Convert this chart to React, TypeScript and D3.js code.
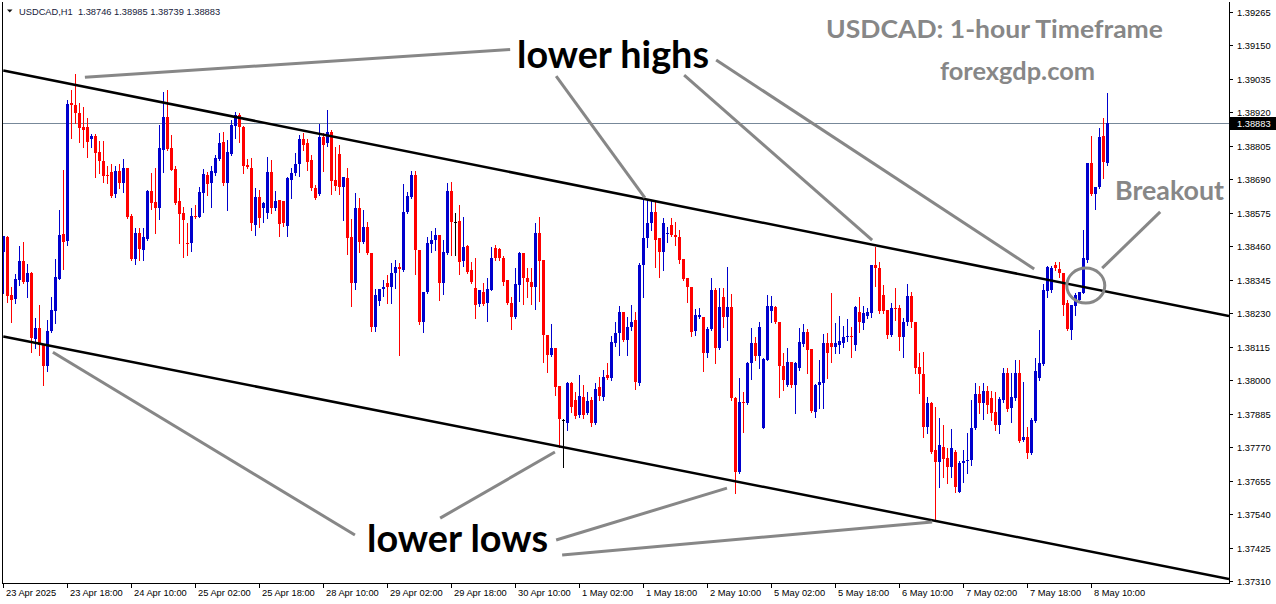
import * as d3 from "d3";

// USDCAD H1 candles (bar 0 = 23 Apr 02:00)
const opens = [
  1.3844, 1.38492, 1.38293, 1.38279, 1.38344, 1.3841, 1.38337, 1.38368, 1.38141, 1.38179,
  1.38121, 1.38048, 1.38169, 1.38238, 1.38347, 1.38502, 1.38478, 1.38952, 1.38945, 1.38918,
  1.3887, 1.3887, 1.38828, 1.38838, 1.38784, 1.38753, 1.38705, 1.38715, 1.38639, 1.38719,
  1.38678, 1.38729, 1.38563, 1.38416, 1.38506, 1.38447, 1.38485, 1.3865, 1.38612, 1.38592,
  1.38791, 1.38904, 1.38798, 1.38725, 1.38616, 1.38574, 1.38471, 1.38471, 1.38563, 1.3856,
  1.38643, 1.38705, 1.38678, 1.38712, 1.3876, 1.38818, 1.38678, 1.38777, 1.38873, 1.38911,
  1.3887, 1.38739, 1.38729, 1.38533, 1.38629, 1.38592, 1.38574, 1.38715, 1.38592, 1.38619,
  1.38616, 1.38529, 1.38688, 1.38712, 1.38742, 1.38828, 1.38815, 1.38756, 1.38661, 1.38639,
  1.38835, 1.38815, 1.38852, 1.38688, 1.38777, 1.38664, 1.38695, 1.38492, 1.38334, 1.38592,
  1.38474, 1.38526, 1.38437, 1.38182, 1.38272, 1.38313, 1.38334, 1.3832, 1.38368, 1.38389,
  1.38378, 1.38577, 1.38629, 1.38705, 1.38447, 1.38199, 1.38303, 1.38467, 1.38481, 1.38499,
  1.38334, 1.38437, 1.3865, 1.38543, 1.38547, 1.3841, 1.3846, 1.38378, 1.38317, 1.38261,
  1.38303, 1.38265, 1.3831, 1.38454, 1.3845, 1.3842, 1.38344, 1.38265, 1.38217, 1.38327,
  1.38437, 1.38351, 1.38337, 1.3832, 1.38506, 1.38413, 1.38155, 1.38086, 1.38111, 1.37979,
  1.37863, 1.37853, 1.3799, 1.37932, 1.3788, 1.37942, 1.37887, 1.37932, 1.37853, 1.37976,
  1.37942, 1.38018, 1.38008, 1.38128, 1.38162, 1.38234, 1.38138, 1.38182, 1.38206, 1.3799,
  1.38396, 1.38489, 1.3854, 1.38577, 1.38489, 1.3844, 1.38502, 1.38533, 1.38499, 1.38492,
  1.38416, 1.38351, 1.3832, 1.38169, 1.38217, 1.38217, 1.38093, 1.38175, 1.3831, 1.38111,
  1.38286, 1.38217, 1.38251, 1.37938, 1.37684, 1.37925, 1.37922, 1.38059, 1.38128, 1.38083,
  1.37836, 1.38069, 1.38238, 1.38251, 1.38199, 1.38048, 1.37983, 1.38062, 1.37983, 1.38041,
  1.38124, 1.38165, 1.38107, 1.3789, 1.37983, 1.3799, 1.38128, 1.38128, 1.38114, 1.38121,
  1.38128, 1.38148, 1.38151, 1.38121, 1.38234, 1.38196, 1.3822, 1.38231, 1.38396, 1.38386,
  1.38293, 1.38241, 1.38155, 1.38248, 1.38248, 1.38148, 1.38199, 1.38289, 1.38199, 1.38045,
  1.38021, 1.37839, 1.37922, 1.3776, 1.37718, 1.3777, 1.37732, 1.37701, 1.37753, 1.37615,
  1.37715, 1.37722, 1.37725, 1.37836, 1.37952, 1.37922, 1.37963, 1.37938, 1.3789, 1.37846,
  1.37932, 1.38025, 1.37904, 1.37938, 1.38025, 1.37794, 1.37805, 1.3775, 1.3786, 1.38008,
  1.38055, 1.38306, 1.3831, 1.38396, 1.38382, 1.38368, 1.38265, 1.38172, 1.38254, 1.38275,
  1.383, 1.38413, 1.38746, 1.38639, 1.38664, 1.38838, 1.38746,
];
const highs = [
  1.38495, 1.38495, 1.3832, 1.38364, 1.3846, 1.38474, 1.38399, 1.38371, 1.38214, 1.38258,
  1.38121, 1.38206, 1.38286, 1.38416, 1.38584, 1.38722, 1.38962, 1.38997, 1.39052, 1.38952,
  1.38938, 1.38901, 1.38845, 1.38845, 1.38822, 1.38822, 1.38735, 1.38742, 1.38735, 1.38742,
  1.3876, 1.38729, 1.3857, 1.38523, 1.38523, 1.38523, 1.38653, 1.38712, 1.38729, 1.38877,
  1.3899, 1.38997, 1.38842, 1.38735, 1.38661, 1.38595, 1.3854, 1.38592, 1.38602, 1.38664,
  1.38725, 1.38715, 1.38735, 1.38774, 1.38849, 1.38852, 1.38825, 1.38894, 1.38921, 1.38918,
  1.38873, 1.3876, 1.38764, 1.38661, 1.38653, 1.38612, 1.38767, 1.38756, 1.3865, 1.38619,
  1.38616, 1.38698, 1.38729, 1.38781, 1.38842, 1.38849, 1.38828, 1.38774, 1.38671, 1.3888,
  1.38849, 1.38928, 1.38859, 1.38801, 1.38808, 1.38698, 1.38729, 1.38553, 1.38643, 1.38626,
  1.38584, 1.38543, 1.38437, 1.38313, 1.38313, 1.38344, 1.38361, 1.38403, 1.38413, 1.38403,
  1.38674, 1.38646, 1.38719, 1.38719, 1.38447, 1.38303, 1.38492, 1.38513, 1.38523, 1.38499,
  1.38481, 1.38678, 1.38681, 1.38574, 1.38602, 1.3856, 1.38464, 1.38406, 1.3842, 1.3831,
  1.38334, 1.38351, 1.38457, 1.38464, 1.38454, 1.38426, 1.38344, 1.38286, 1.38386, 1.3844,
  1.38437, 1.38386, 1.38386, 1.3854, 1.3856, 1.38413, 1.38155, 1.38192, 1.38111, 1.37979,
  1.37866, 1.37993, 1.37993, 1.37959, 1.38018, 1.37983, 1.37959, 1.37942, 1.3799, 1.38011,
  1.38035, 1.38059, 1.38151, 1.38199, 1.38254, 1.38234, 1.38217, 1.38258, 1.38234, 1.38403,
  1.38626, 1.38619, 1.38619, 1.38619, 1.38489, 1.38557, 1.38526, 1.38557, 1.38543, 1.38516,
  1.38416, 1.38351, 1.3832, 1.38244, 1.38248, 1.38217, 1.38182, 1.38351, 1.38317, 1.38317,
  1.38317, 1.38389, 1.38296, 1.37942, 1.38008, 1.37959, 1.38062, 1.38179, 1.38148, 1.38199,
  1.38076, 1.38293, 1.38289, 1.38254, 1.38199, 1.38093, 1.38111, 1.38062, 1.38062, 1.38179,
  1.38192, 1.38175, 1.38107, 1.37986, 1.38069, 1.38158, 1.38162, 1.383, 1.38196, 1.3822,
  1.38186, 1.3821, 1.38182, 1.38254, 1.38286, 1.38254, 1.38248, 1.38396, 1.38457, 1.38406,
  1.38327, 1.38241, 1.38265, 1.38317, 1.38258, 1.38214, 1.3833, 1.38303, 1.38199, 1.38093,
  1.38096, 1.37942, 1.37925, 1.37908, 1.3787, 1.37846, 1.37767, 1.37832, 1.3776, 1.37722,
  1.3776, 1.37819, 1.37932, 1.3799, 1.37979, 1.3799, 1.37979, 1.37963, 1.37959, 1.37942,
  1.38041, 1.38041, 1.38025, 1.38069, 1.38069, 1.37993, 1.37839, 1.3787, 1.38076, 1.38172,
  1.3833, 1.38392, 1.38392, 1.38406, 1.38406, 1.38368, 1.38275, 1.38258, 1.383, 1.38303,
  1.38516, 1.38746, 1.38838, 1.38664, 1.38867, 1.38901, 1.38985,
];
const lows = [
  1.383, 1.38268, 1.38199, 1.38265, 1.38327, 1.38334, 1.38286, 1.38096, 1.38111, 1.38086,
  1.37983, 1.38032, 1.38165, 1.38196, 1.38347, 1.38382, 1.38464, 1.38832, 1.38884, 1.38818,
  1.38801, 1.38767, 1.38801, 1.38698, 1.38712, 1.38681, 1.38678, 1.38629, 1.38629, 1.38661,
  1.38646, 1.38557, 1.38413, 1.38399, 1.38413, 1.38413, 1.38481, 1.38588, 1.38506, 1.38553,
  1.38715, 1.38791, 1.38722, 1.38605, 1.38471, 1.38423, 1.3843, 1.38444, 1.38557, 1.3856,
  1.38577, 1.38636, 1.38595, 1.38705, 1.38756, 1.38671, 1.38584, 1.38774, 1.38832, 1.38818,
  1.38712, 1.38729, 1.38516, 1.38499, 1.38526, 1.38543, 1.38557, 1.38574, 1.38584, 1.38495,
  1.38529, 1.38495, 1.38626, 1.38705, 1.38701, 1.38791, 1.38722, 1.38653, 1.38622, 1.38636,
  1.38719, 1.38804, 1.38639, 1.38653, 1.38639, 1.3855, 1.38433, 1.38254, 1.38313, 1.3844,
  1.38471, 1.38433, 1.38169, 1.38169, 1.38258, 1.38289, 1.38265, 1.38265, 1.38317, 1.38086,
  1.38375, 1.38574, 1.38626, 1.38364, 1.38192, 1.38165, 1.383, 1.3844, 1.38447, 1.38275,
  1.38296, 1.38433, 1.3843, 1.3843, 1.38364, 1.38392, 1.38368, 1.38334, 1.38214, 1.38254,
  1.38258, 1.38203, 1.3831, 1.38413, 1.38413, 1.38327, 1.38261, 1.38175, 1.38214, 1.38272,
  1.38261, 1.38286, 1.38261, 1.38244, 1.38272, 1.38062, 1.38028, 1.38083, 1.37949, 1.3777,
  1.37701, 1.37829, 1.3789, 1.3787, 1.37873, 1.3787, 1.37883, 1.37842, 1.37849, 1.37932,
  1.37932, 1.38004, 1.38, 1.38117, 1.38086, 1.38135, 1.38086, 1.38172, 1.37969, 1.37983,
  1.38286, 1.38457, 1.38516, 1.38389, 1.38354, 1.38378, 1.38474, 1.38495, 1.38464, 1.38403,
  1.38344, 1.38268, 1.38151, 1.38155, 1.38214, 1.38032, 1.38079, 1.38172, 1.38059, 1.38107,
  1.38182, 1.38138, 1.37932, 1.37612, 1.37681, 1.37822, 1.37918, 1.38004, 1.38069, 1.38041,
  1.37836, 1.38069, 1.38199, 1.38196, 1.37942, 1.37966, 1.37979, 1.37976, 1.37887, 1.38035,
  1.38117, 1.38025, 1.3789, 1.37873, 1.37904, 1.37904, 1.38008, 1.38062, 1.38093, 1.38093,
  1.38114, 1.38135, 1.38079, 1.38103, 1.38165, 1.38175, 1.38214, 1.38217, 1.38323, 1.38231,
  1.38231, 1.38145, 1.38151, 1.38206, 1.38103, 1.38079, 1.38189, 1.38182, 1.38025, 1.37956,
  1.37805, 1.37819, 1.3775, 1.37519, 1.37633, 1.37667, 1.37646, 1.37667, 1.37615, 1.37615,
  1.3765, 1.37681, 1.37708, 1.37832, 1.37887, 1.37866, 1.37887, 1.37863, 1.37829, 1.37819,
  1.37925, 1.37894, 1.37856, 1.37932, 1.37787, 1.37791, 1.37732, 1.37746, 1.37856, 1.38,
  1.38052, 1.38286, 1.38303, 1.38378, 1.38354, 1.38224, 1.38172, 1.38141, 1.38224, 1.38268,
  1.383, 1.38406, 1.38636, 1.38588, 1.38661, 1.38695, 1.38739,
];
const closes = [
  1.38495, 1.38289, 1.38275, 1.38347, 1.3841, 1.38337, 1.38368, 1.38145, 1.38179, 1.38121,
  1.38048, 1.38169, 1.38241, 1.38354, 1.38499, 1.38474, 1.38948, 1.38945, 1.38918, 1.38867,
  1.38859, 1.38818, 1.38838, 1.38781, 1.38753, 1.38701, 1.38701, 1.38632, 1.38719, 1.38678,
  1.38729, 1.3856, 1.38416, 1.38506, 1.3845, 1.38492, 1.3865, 1.38609, 1.38592, 1.38798,
  1.38904, 1.38794, 1.38722, 1.38609, 1.3857, 1.3855, 1.38467, 1.38563, 1.3856, 1.38646,
  1.38708, 1.38674, 1.38719, 1.38764, 1.38815, 1.38678, 1.38784, 1.38877, 1.38911, 1.3887,
  1.38735, 1.38732, 1.3854, 1.38629, 1.38557, 1.38609, 1.38715, 1.38592, 1.38616, 1.38536,
  1.3854, 1.38695, 1.38712, 1.38742, 1.38828, 1.38808, 1.38749, 1.38661, 1.38626, 1.38835,
  1.38808, 1.38852, 1.38685, 1.38667, 1.38664, 1.38698, 1.38489, 1.38334, 1.38592, 1.38474,
  1.38526, 1.38437, 1.38182, 1.38293, 1.38313, 1.3832, 1.3832, 1.38368, 1.38389, 1.38382,
  1.38577, 1.38632, 1.38705, 1.38447, 1.38199, 1.38303, 1.38471, 1.38481, 1.38499, 1.38334,
  1.3844, 1.3865, 1.38543, 1.38543, 1.38406, 1.38457, 1.38371, 1.38337, 1.38258, 1.3831,
  1.38261, 1.38313, 1.3842, 1.3842, 1.3842, 1.38337, 1.38265, 1.38217, 1.3833, 1.38437,
  1.38351, 1.38337, 1.3832, 1.38506, 1.3841, 1.38155, 1.38086, 1.38111, 1.37976, 1.37866,
  1.37863, 1.3799, 1.37908, 1.37876, 1.37945, 1.3788, 1.37929, 1.37853, 1.37969, 1.37945,
  1.38011, 1.38008, 1.38131, 1.38162, 1.38234, 1.38138, 1.38182, 1.38199, 1.37993, 1.38396,
  1.38489, 1.3854, 1.38577, 1.38481, 1.3844, 1.3854, 1.38506, 1.38499, 1.38492, 1.38413,
  1.38347, 1.3832, 1.38165, 1.38224, 1.38224, 1.38093, 1.38175, 1.3831, 1.38111, 1.38251,
  1.38217, 1.38251, 1.37938, 1.37684, 1.37925, 1.37922, 1.38059, 1.38128, 1.38083, 1.38182,
  1.38072, 1.38254, 1.38254, 1.38199, 1.38048, 1.38, 1.38062, 1.37983, 1.38059, 1.38131,
  1.38165, 1.38103, 1.37894, 1.37983, 1.37993, 1.38128, 1.38093, 1.38114, 1.38128, 1.38135,
  1.38148, 1.38151, 1.38148, 1.38251, 1.38199, 1.38231, 1.38234, 1.38396, 1.38386, 1.38238,
  1.38238, 1.38155, 1.38248, 1.38244, 1.38148, 1.38199, 1.38289, 1.38199, 1.38041, 1.38021,
  1.37839, 1.37922, 1.37753, 1.37718, 1.37777, 1.37729, 1.37701, 1.37767, 1.37633, 1.37715,
  1.37722, 1.37725, 1.37836, 1.37952, 1.37922, 1.37963, 1.37915, 1.37887, 1.37846, 1.37935,
  1.38025, 1.379, 1.37942, 1.38025, 1.37791, 1.37805, 1.3775, 1.37863, 1.38032, 1.38059,
  1.3831, 1.38389, 1.38386, 1.38386, 1.38368, 1.38258, 1.38175, 1.38258, 1.38293, 1.38303,
  1.3842, 1.38746, 1.38639, 1.38664, 1.38835, 1.38749, 1.38883,
];

const timeLabels = [
  "23 Apr 2025", "23 Apr 18:00", "24 Apr 10:00", "25 Apr 02:00", "25 Apr 18:00",
  "28 Apr 10:00", "29 Apr 02:00", "29 Apr 18:00", "30 Apr 10:00", "1 May 02:00",
  "1 May 18:00", "2 May 10:00", "5 May 02:00", "5 May 18:00", "6 May 10:00",
  "7 May 02:00", "7 May 18:00", "8 May 10:00",
];
const timeLabelBars = [0, 16, 32, 48, 64, 80, 96, 112, 128, 144, 160, 176, 192, 208, 224, 240, 256, 272];

const priceTicks = [
  1.39265, 1.3915, 1.39035, 1.3892, 1.38805, 1.3869, 1.38575, 1.3846, 1.38345,
  1.3823, 1.38115, 1.38, 1.37885, 1.3777, 1.37655, 1.3754, 1.37425, 1.3731,
];
const lastPrice = 1.38883;
const header = "USDCAD,H1  1.38746 1.38985 1.38739 1.38883";

// drawn objects, as [bar, price] pairs
const upperChannel: [number, number][] = [[0, 1.39064], [306.4, 1.3822]];
const lowerChannel: [number, number][] = [[0, 1.3815], [306.4, 1.37317]];
const highPointers: [number, number][][] = [
  [[20.4, 1.39041], [126.7, 1.39136]],
  [[138.2, 1.39045], [160.4, 1.38626]],
  [[170.2, 1.39048], [217.2, 1.38481]],
  [[178.2, 1.391], [257.7, 1.38382]],
];
const lowPointers: [number, number][][] = [
  [[12.4, 1.38096], [87.9, 1.37468]],
  [[109.2, 1.37526], [137.9, 1.37753]],
  [[138.2, 1.37451], [180.9, 1.37629]],
  [[139.7, 1.37399], [232.2, 1.37513]],
];
const breakoutPointer: [number, number][] = [[274.7, 1.38385], [289.2, 1.38578]];
const breakoutCircle = { bar: 270.6, price: 1.38325, bars: 4.75, pips: 0.0006 };

const BLUE = "#0000cd";
const RED = "#ff0000";
const GREY = "#878787";
const AXIS_FONT = "'Liberation Sans', Arial, sans-serif";
const NOTE_FONT = "Lato, 'Open Sans', sans-serif";

export default function App() {
  const left = 3, right = 1229, bottom = 583, top = 2;
  const x = d3.scaleLinear().domain([0, 306.4]).range([3.3, 1229]);
  const y = d3.scaleLinear().domain([1.3731, 1.39265]).range([581, 12]);
  const line = d3.line<[number, number]>().x((d) => x(d[0])).y((d) => y(d[1]));

  const lastY = Math.round(y(lastPrice));

  return (
    <svg
      width={1276}
      height={604}
      style={{ position: "absolute", left: 0, top: 0, background: "#fff" }}
    >
      <defs>
        <clipPath id="plot">
          <rect x={left} y={top} width={right - left} height={bottom - top} />
        </clipPath>
      </defs>

      {/* header */}
      <path d="M7,9.5 L12.5,9.5 L9.75,12.5 Z" fill="#111" />
      <text
        x={19}
        y={15}
        fontFamily={AXIS_FONT}
        fontSize={9.3}
        fill="#16213a"
        style={{ whiteSpace: "pre" }}
      >
        {header}
      </text>

      <g clipPath="url(#plot)">
        {/* current price line */}
        <line x1={left} x2={right} y1={lastY + 0.5} y2={lastY + 0.5} stroke="#778899" />

        {/* candles */}
        <g shapeRendering="crispEdges">
          {opens.map((o, i) => {
            const c = closes[i];
            const hi = Math.max(highs[i], o, c);
            const lo = Math.min(lows[i], o, c);
            const cx = Math.round(x(i));
            const color = c > o ? BLUE : c < o ? RED : "#000";
            const yt = Math.round(y(Math.max(o, c)));
            const yb = Math.round(y(Math.min(o, c)));
            return (
              <g key={i}>
                <line
                  x1={cx + 0.5}
                  x2={cx + 0.5}
                  y1={Math.round(y(hi))}
                  y2={Math.round(y(lo)) + 1}
                  stroke={color}
                />
                {c === o ? (
                  <rect x={cx - 1} y={yt} width={3} height={1} fill={color} />
                ) : (
                  <rect x={cx - 1} y={yt} width={3} height={Math.max(1, yb - yt)} fill={color} />
                )}
              </g>
            );
          })}
        </g>

        {/* channel */}
        <path d={line(upperChannel) ?? ""} stroke="#000" strokeWidth={2.5} fill="none" />
        <path d={line(lowerChannel) ?? ""} stroke="#000" strokeWidth={2.5} fill="none" />
      </g>

      {/* annotation pointers */}
      <g stroke={GREY} strokeWidth={3} fill="none">
        {highPointers.concat(lowPointers).map((p, i) => (
          <path key={i} d={line(p) ?? ""} />
        ))}
        <path d={line(breakoutPointer) ?? ""} />
        <ellipse
          cx={x(breakoutCircle.bar)}
          cy={y(breakoutCircle.price)}
          rx={x(breakoutCircle.bars) - x(0)}
          ry={y(breakoutCircle.price - breakoutCircle.pips) - y(breakoutCircle.price)}
        />
      </g>

      {/* annotation texts */}
      <g fontFamily={NOTE_FONT} fontWeight={700} textAnchor="middle">
        <text x={613} y={68} fontSize={38} fill="#000" textLength={192} lengthAdjust="spacingAndGlyphs">
          lower highs
        </text>
        <text x={457.5} y={552} fontSize={38} fill="#000" textLength={181} lengthAdjust="spacingAndGlyphs">
          lower lows
        </text>
        <text x={994.5} y={38} fontSize={25} fill={GREY} textLength={337} lengthAdjust="spacingAndGlyphs">
          USDCAD: 1-hour Timeframe
        </text>
        <text x={1017.5} y={80} fontSize={25} fill={GREY} textLength={155} lengthAdjust="spacingAndGlyphs">
          forexgdp.com
        </text>
        <text x={1169.5} y={200} fontSize={27} fill={GREY} textLength={109} lengthAdjust="spacingAndGlyphs">
          Breakout
        </text>
      </g>

      {/* frame */}
      <g stroke="#000" shapeRendering="crispEdges">
        <line x1={left - 0.5} x2={left - 0.5} y1={top} y2={bottom} />
        <line x1={right + 0.5} x2={right + 0.5} y1={top} y2={bottom + 1} />
        <line x1={left - 1} x2={right + 1} y1={bottom + 0.5} y2={bottom + 0.5} />
      </g>

      {/* price axis */}
      <g fontFamily={AXIS_FONT} fontSize={9.3} fill="#000">
        {priceTicks.map((p) => {
          const ty = Math.round(y(p));
          return (
            <g key={p}>
              <line x1={right + 1} x2={right + 4} y1={ty + 0.5} y2={ty + 0.5} stroke="#000" shapeRendering="crispEdges" />
              <text x={1237} y={ty + 3.5}>{p.toFixed(5)}</text>
            </g>
          );
        })}
        <rect x={right + 1} y={lastY - 6} width={46} height={13} fill="#000" />
        <text x={1237} y={lastY + 3.5} fill="#fff">{lastPrice.toFixed(5)}</text>
      </g>

      {/* time axis */}
      <g fontFamily={AXIS_FONT} fontSize={9.3} fill="#000">
        {timeLabels.map((t, k) => {
          const tx = Math.round(x(timeLabelBars[k]));
          return (
            <g key={t}>
              <line x1={tx + 0.5} x2={tx + 0.5} y1={bottom} y2={bottom + 5} stroke="#000" shapeRendering="crispEdges" />
              <text x={tx + 3} y={596}>{t}</text>
            </g>
          );
        })}
      </g>
    </svg>
  );
}
